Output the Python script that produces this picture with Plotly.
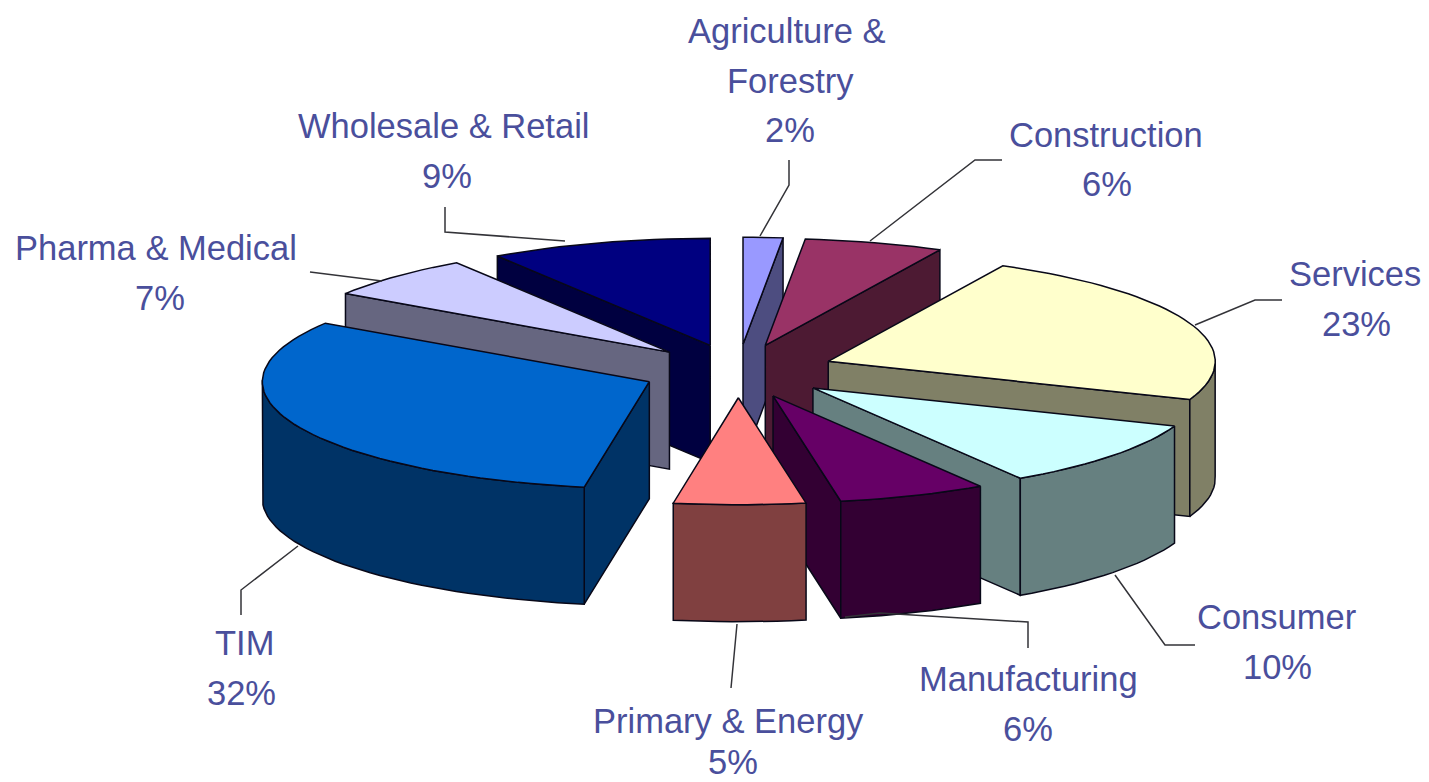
import math
import plotly.graph_objects as go

# ---- data ----
categories = ["Agriculture & Forestry", "Construction", "Services", "Consumer", "Manufacturing",
              "Primary & Energy", "TIM", "Pharma & Medical", "Wholesale & Retail"]
values = [1.65, 5.8, 23.35, 10.2, 6.2, 5.49, 31.52, 6.52, 9.27]
top_colors = ["#9999FF", "#993366", "#FFFFCC", "#CCFFFF", "#660066", "#FF8080", "#0066CC", "#CCCCFF", "#000080"]
side_colors = ["#4D4D80", "#4D1A33", "#808066", "#668080", "#330033", "#804040", "#003366", "#666680", "#000040"]

# ---- label layout (line centres, pixels) ----
label_lines = [
    [("Agriculture &", 787, 31), ("Forestry", 790, 81)],
    [("Construction", 1106, 135)],
    [("Services", 1355, 274)],
    [("Consumer", 1276, 617)],
    [("Manufacturing", 1028, 679)],
    [("Primary & Energy", 728, 721)],
    [("TIM", 244, 643)],
    [("Pharma & Medical", 156, 248)],
    [("Wholesale & Retail", 443, 126)],
]
percent_pos = [(790, 130), (1107, 184), (1356, 324), (1277, 667), (1028, 729),
               (733, 762), (241, 693), (160, 298), (447, 176)]
leaders = [
    [(789, 160), (789, 185), (760, 236)],
    [(1002, 160), (975, 160), (870, 241)],
    [(1282, 300), (1255, 300), (1195, 325)],
    [(1195, 645), (1165, 645), (1115, 575)],
    [(1028, 648), (1028, 622), (880, 613), (845, 617)],
    [(731, 688), (737, 624)],
    [(241, 615), (241, 590), (298, 546)],
    [(310, 272), (382, 281)],
    [(445, 207), (445, 232), (565, 241)],
]

# ---- projection of the exploded pie ----
CX, CY, RX, RY, EXPLODE, DEPTH = 738, 371, 387, 107, 0.25, 117
LINE = "#080818"


def project(px, py, z=0.0):
    return CX + RX * px, CY - RY * py + DEPTH * z


fig = go.Figure()


def add_poly(pts, fill, width=1.5):
    fig.add_trace(go.Scatter(x=[p[0] for p in pts] + [pts[0][0]], y=[p[1] for p in pts] + [pts[0][1]],
                             mode="lines", fill="toself", fillcolor=fill,
                             line=dict(color=LINE, width=width), hoverinfo="skip", showlegend=False))


total = sum(values)
slices = []
cum = 0.0
for i, v in enumerate(values):
    a0, a1 = 2 * math.pi * cum / total, 2 * math.pi * (cum + v) / total
    cum += v
    slices.append((i, a0, a1, (a0 + a1) / 2))

# painter's order: farthest wedge first
for i, a0, a1, mid in sorted(slices, key=lambda s: -math.cos(s[3])):
    ox, oy = EXPLODE * math.sin(mid), EXPLODE * math.cos(mid)
    n = max(4, int(math.degrees(a1 - a0) / 2))
    angles = [a0 + (a1 - a0) * k / n for k in range(n + 1)]
    rim = [(ox + math.sin(a), oy + math.cos(a)) for a in angles]
    apex = (ox, oy)
    side = side_colors[i]
    # radial faces that turn toward the viewer
    if math.sin(a0) < 0:
        add_poly([project(*apex), project(*rim[0]), project(*rim[0], 1), project(*apex, 1)], side)
    if math.sin(a1) > 0:
        add_poly([project(*apex), project(*rim[-1]), project(*rim[-1], 1), project(*apex, 1)], side)
    # outer wall: only the part whose rim faces the viewer
    vis = [k for k, a in enumerate(angles) if math.cos(a) < 0.02]
    if len(vis) > 1:
        top = [project(*rim[k]) for k in vis]
        bot = [project(*rim[k], 1) for k in reversed(vis)]
        add_poly(top + bot, side)
    add_poly([project(*apex)] + [project(*r) for r in rim], top_colors[i])

for line in leaders:
    fig.add_trace(go.Scatter(x=[p[0] for p in line], y=[p[1] for p in line], mode="lines",
                             line=dict(color="#333338", width=1.5), hoverinfo="skip", showlegend=False))

FONT = dict(family="Liberation Sans, Arial, sans-serif", size=34.5, color="#4A4F9C")
annotations = []
for lines, v, pos in zip(label_lines, values, percent_pos):
    for text, x, y in lines + [(f"{round(v)}%", pos[0], pos[1])]:
        annotations.append(dict(x=x, y=y, text=text, showarrow=False, xanchor="center", yanchor="middle",
                                xref="x", yref="y", font=FONT))

fig.update_layout(
    width=1429, height=782, autosize=False,
    margin=dict(l=0, r=0, t=0, b=0),
    paper_bgcolor="white", plot_bgcolor="white", showlegend=False,
    xaxis=dict(range=[0, 1429], visible=False, fixedrange=True),
    yaxis=dict(range=[782, 0], visible=False, fixedrange=True),
    annotations=annotations,
)
fig.write_html("out.html", config={"displayModeBar": False},
               post_script="document.body.style.margin='0';document.body.style.overflow='hidden';")
